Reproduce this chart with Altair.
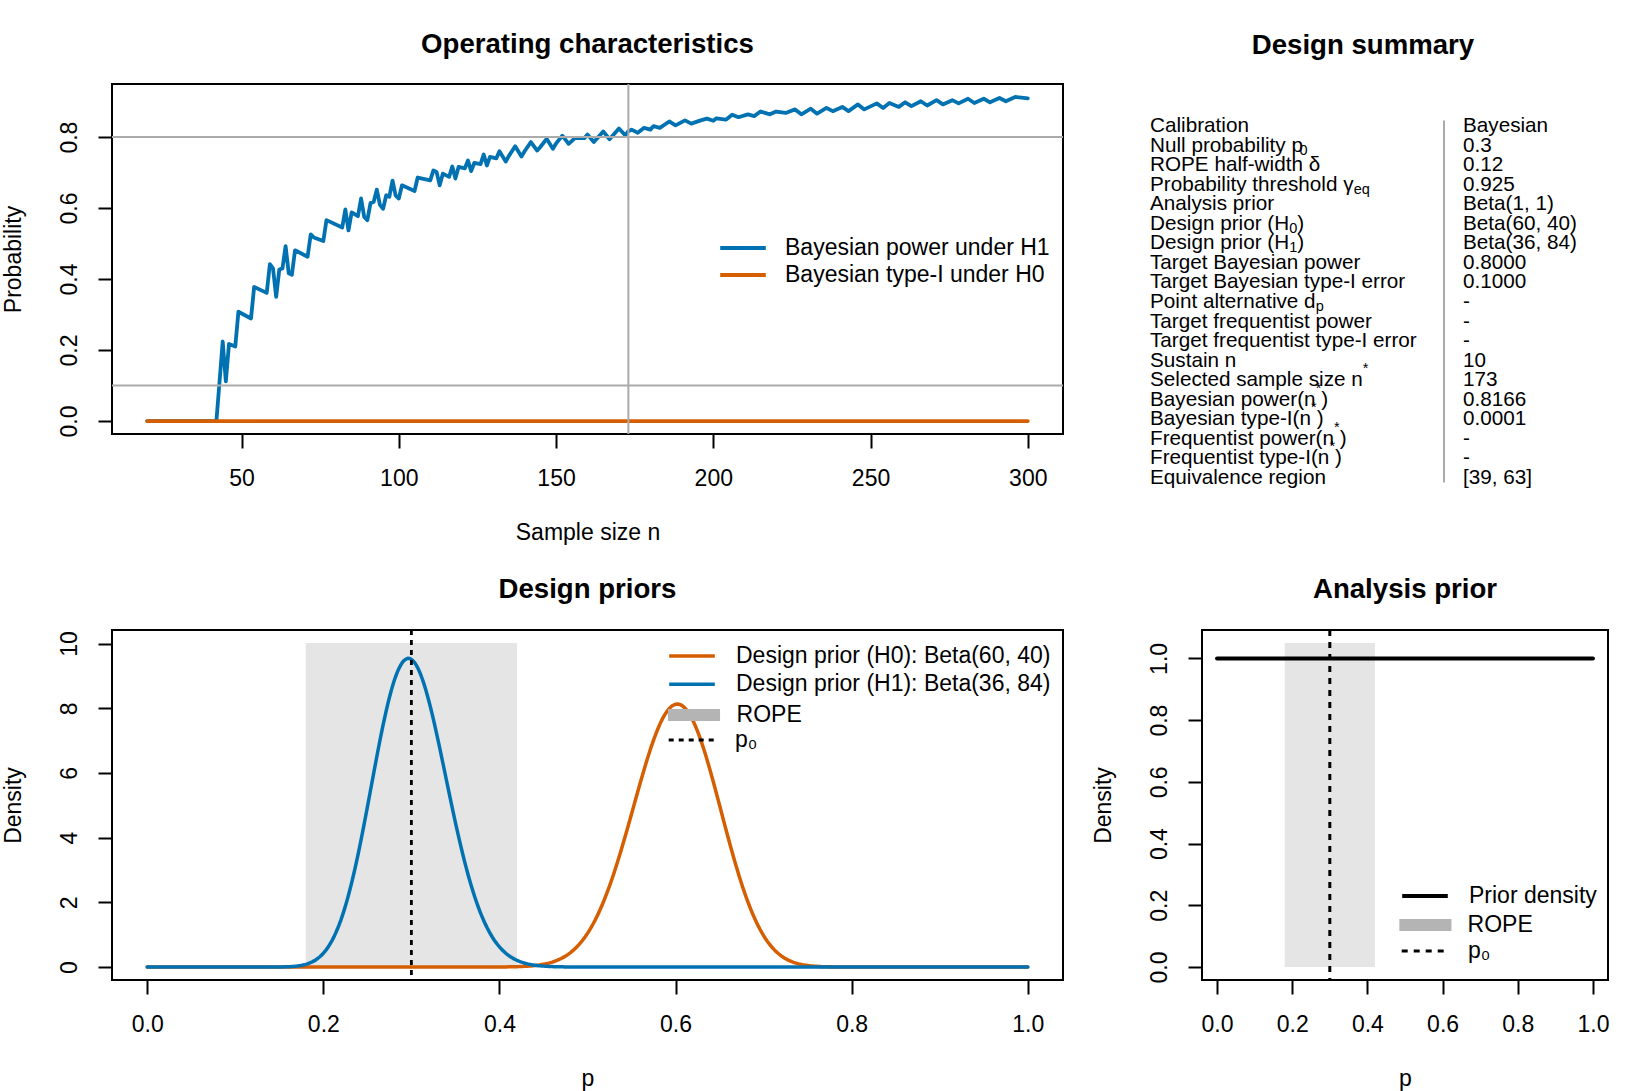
import math
import re
import numpy as np
import pandas as pd
import altair as alt

FONT = "Liberation Sans"
BLUE = "#0072B2"
ORANGE = "#D55E00"
REF_GREY = "#ABABAB"
ROPE_FILL = "#E5E5E5"
ROPE_KEY = "#B4B4B4"

# ---------------- operating characteristics ----------------
n_power = [20, 42, 44, 45, 46, 48, 49, 53, 54, 58, 59, 60, 61, 62, 63, 64, 65, 66, 67,
           71, 72, 73, 76, 77, 82, 83, 84, 85, 87, 88, 89, 90, 91, 92, 93, 94, 95, 96,
           97, 98, 99, 100, 101, 105, 106, 110, 111, 112, 113, 114, 116, 117, 118, 119,
           121, 122, 123, 124, 126, 127, 128, 129, 131, 132, 134, 135, 137, 139, 140,
           142, 144, 145, 147, 149, 150, 152, 154, 156, 159, 160, 162, 165, 167, 170,
           172, 173, 174, 176, 178, 180, 181, 183, 186, 188, 191, 193, 196, 198, 200,
           201, 204, 206, 208, 211, 213, 215, 218, 220, 223, 226, 228, 231, 233, 236,
           238, 241, 243, 246, 248, 252, 254, 256, 259, 261, 263, 266, 268, 271, 273,
           276, 278, 281, 283, 286, 288, 291, 293, 296, 298, 300]
power_h1 = [0.0, 0.0, 0.224, 0.112, 0.217, 0.210, 0.308, 0.289, 0.378, 0.361, 0.442, 0.430,
            0.350, 0.427, 0.430, 0.493, 0.416, 0.412, 0.481, 0.463, 0.526, 0.517, 0.507,
            0.566, 0.545, 0.596, 0.537, 0.588, 0.577, 0.627, 0.575, 0.566, 0.614, 0.617,
            0.652, 0.609, 0.598, 0.636, 0.632, 0.677, 0.635, 0.627, 0.664, 0.648, 0.686,
            0.678, 0.706, 0.702, 0.664, 0.697, 0.688, 0.717, 0.683, 0.716, 0.712, 0.734,
            0.704, 0.727, 0.724, 0.751, 0.720, 0.744, 0.740, 0.760, 0.731, 0.747, 0.774,
            0.745, 0.760, 0.786, 0.762, 0.772, 0.795, 0.767, 0.782, 0.804, 0.781, 0.797,
            0.797, 0.807, 0.786, 0.816, 0.794, 0.824, 0.805, 0.8166, 0.821, 0.812, 0.826,
            0.821, 0.831, 0.826, 0.844, 0.833, 0.847, 0.838, 0.847, 0.852, 0.846, 0.853,
            0.849, 0.863, 0.856, 0.864, 0.859, 0.872, 0.864, 0.872, 0.868, 0.878, 0.864,
            0.880, 0.866, 0.882, 0.873, 0.885, 0.873, 0.892, 0.878, 0.895, 0.882, 0.896,
            0.885, 0.898, 0.887, 0.901, 0.889, 0.904, 0.892, 0.904, 0.895, 0.908, 0.896,
            0.908, 0.898, 0.910, 0.901, 0.913, 0.911, 0.909]
n_type1 = [20, 300]
type1_h0 = [0.0, 0.0]
target_power = 0.8
target_type1 = 0.1
n_star = 173
oc_series = ["Bayesian power under H1", "Bayesian type-I under H0"]

# ---------------- design ----------------
p0 = 0.3
rope_delta = 0.12
prior_h0 = (60, 40)
prior_h1 = (36, 84)
analysis_prior = (1, 1)

summary_labels = [
    "Calibration",
    "Null probability p_{0}",
    "ROPE half-width δ",
    "Probability threshold γ_{eq}",
    "Analysis prior",
    "Design prior (H_{0})",
    "Design prior (H_{1})",
    "Target Bayesian power",
    "Target Bayesian type-I error",
    "Point alternative d_{p}",
    "Target frequentist power",
    "Target frequentist type-I error",
    "Sustain n",
    "Selected sample size n^{*}",
    "Bayesian power(n^{*} )",
    "Bayesian type-I(n^{*} )",
    "Frequentist power(n^{*} )",
    "Frequentist type-I(n^{*} )",
    "Equivalence region",
]
summary_values = ["Bayesian", "0.3", "0.12", "0.925", "Beta(1, 1)", "Beta(60, 40)",
                  "Beta(36, 84)", "0.8000", "0.1000", "-", "-", "-", "10", "173",
                  "0.8166", "0.0001", "-", "-", "[39, 63]"]

# ---------------- helpers ----------------
def beta_pdf(x, a, b):
    x = np.asarray(x, dtype=float)
    log_b = math.lgamma(a) + math.lgamma(b) - math.lgamma(a + b)
    with np.errstate(divide="ignore", invalid="ignore"):
        t1 = np.zeros_like(x) if a == 1 else (a - 1) * np.log(x)
        t2 = np.zeros_like(x) if b == 1 else (b - 1) * np.log1p(-x)
    out = np.exp(t1 + t2 - log_b)
    return np.nan_to_num(out, nan=0.0, posinf=0.0)


def padded(lo, hi):
    r = hi - lo
    return [lo - 0.04 * r, hi + 0.04 * r]


BASE = 23
LINE_KEY = "M-1.9,0H1.9"     # 46 px line at symbolSize 576
BAND_KEY = "M-2.17,0H2.17"   # 52 px band for the ROPE key


def key_legend(lx, ly, offset, row_pad=1.0, path=LINE_KEY, **extra):
    return alt.Legend(orient="none", legendX=lx, legendY=ly, title=None,
                      symbolType=path, symbolSize=576, labelFont=FONT,
                      labelFontSize=BASE, labelColor="black", labelOffset=offset,
                      rowPadding=row_pad, padding=0, labelLimit=0, **extra)


PW = 951
PH = 350

# ---------------- panel A: operating characteristics ----------------
oc_df = pd.DataFrame({
    "n": n_power + n_type1,
    "prob": power_h1 + type1_h0,
    "series": [oc_series[0]] * len(n_power) + [oc_series[1]] * len(n_type1),
})
x_oc = alt.Scale(domain=padded(min(n_power), max(n_power)), nice=False, zero=False)
y_oc = alt.Scale(domain=padded(0, max(power_h1)), nice=False, zero=False)
xa = alt.Axis(values=[50, 100, 150, 200, 250, 300], title="Sample size n")
ya = alt.Axis(values=[0, 0.2, 0.4, 0.6, 0.8], title="Probability", format=".1f")

oc_lines = alt.Chart(oc_df).mark_line(strokeWidth=3.8, strokeCap="round", strokeJoin="round").encode(
    x=alt.X("n:Q", scale=x_oc, axis=xa),
    y=alt.Y("prob:Q", scale=y_oc, axis=ya),
    color=alt.Color("series:N", scale=alt.Scale(domain=oc_series, range=[BLUE, ORANGE]),
                    legend=key_legend(617, 150, 28, row_pad=1.0, symbolStrokeWidth=3.8)),
)
oc_h = alt.Chart(pd.DataFrame({"prob": [target_power, target_type1]})).mark_rule(
    color=REF_GREY, strokeWidth=2).encode(y=alt.Y("prob:Q", scale=y_oc, axis=ya))
oc_v = alt.Chart(pd.DataFrame({"n": [n_star]})).mark_rule(
    color=REF_GREY, strokeWidth=2).encode(x=alt.X("n:Q", scale=x_oc, axis=xa))
panel_a = alt.layer(oc_lines, oc_h, oc_v).properties(
    width=PW, height=PH, title=alt.Title("Operating characteristics"))

# ---------------- panel B: design summary ----------------
ADV = {" ": 278, "(": 333, ")": 333, "-": 333, "*": 389, ",": 278, ".": 278,
       "[": 278, "]": 278, "δ": 556, "γ": 500,
       "a": 556, "b": 556, "c": 500, "d": 556, "e": 556, "f": 278, "g": 556,
       "h": 556, "i": 222, "j": 222, "k": 500, "l": 222, "m": 833, "n": 556,
       "o": 556, "p": 556, "q": 556, "r": 333, "s": 500, "t": 278, "u": 556,
       "v": 500, "w": 722, "x": 500, "y": 500, "z": 500,
       "A": 667, "B": 667, "C": 722, "D": 722, "E": 667, "F": 611, "H": 722,
       "I": 278, "O": 778, "P": 667, "R": 722, "S": 667, "T": 611}


def text_width(s, size):
    return sum(ADV.get(ch, 556) for ch in s) / 1000.0 * size


TABLE_W = 322
TABLE_FS = 20.7
SCRIPT_FS = 14.5
ROW_STEP = 19.53
FIRST_ROW = 42.2
LABEL_X = -52
VALUE_X = 261
SEP_X = 242

seg_rows = []
for r, label in enumerate(summary_labels):
    x = LABEL_X
    for part in re.split(r"([_^]\{[^}]*\})", label):
        if not part:
            continue
        if part.startswith("_{"):
            txt, fs, shift = part[2:-1], SCRIPT_FS, 5.0
        elif part.startswith("^{"):
            txt, fs, shift = part[2:-1], SCRIPT_FS, -11.0
        else:
            txt, fs, shift = part, TABLE_FS, 0.0
        seg_rows.append({"px": x, "row": r + shift / ROW_STEP, "txt": txt, "fs": fs})
        x += text_width(txt, fs)
seg_df = pd.DataFrame(seg_rows)
val_df = pd.DataFrame({"px": [VALUE_X] * len(summary_values),
                       "row": list(range(len(summary_values))),
                       "txt": summary_values})
sep_df = pd.DataFrame({"px": [SEP_X], "row": [-0.29], "row_end": [18.24]})

table_y = alt.Scale(domain=[-FIRST_ROW / ROW_STEP, (PH - FIRST_ROW) / ROW_STEP], reverse=True)

tab_labels = alt.Chart(seg_df).mark_text(align="left", baseline="middle", font=FONT,
                                         color="black").encode(
    x=alt.X("px:Q", scale=None, axis=None),
    y=alt.Y("row:Q", scale=table_y, axis=None),
    text="txt:N",
    size=alt.Size("fs:Q", scale=None, legend=None),
)
tab_values = alt.Chart(val_df).mark_text(align="left", baseline="middle", font=FONT,
                                         fontSize=TABLE_FS, color="black").encode(
    x=alt.X("px:Q", scale=None, axis=None),
    y=alt.Y("row:Q", scale=table_y, axis=None),
    text="txt:N",
)
tab_sep = alt.Chart(sep_df).mark_rule(color=REF_GREY, strokeWidth=2).encode(
    x=alt.X("px:Q", scale=None, axis=None),
    y=alt.Y("row:Q", scale=table_y, axis=None),
    y2="row_end:Q",
)
panel_b = alt.layer(tab_sep, tab_labels, tab_values).properties(
    width=TABLE_W, height=PH, title=alt.Title("Design summary"),
    view=alt.ViewBackground(strokeOpacity=0))

# ---------------- shared pieces for the prior panels ----------------
grid_p = np.linspace(0, 1, 501)
x_p = alt.Scale(domain=padded(0, 1), nice=False, zero=False)
xp_ax = alt.Axis(values=[0, 0.2, 0.4, 0.6, 0.8, 1.0], title="p", format=".1f")
rope_lo, rope_hi = p0 - rope_delta, p0 + rope_delta


def rope_layers(y_scale, y_ax, top, lx, ly, offset):
    rect = alt.Chart(pd.DataFrame({"p": [rope_lo], "p_hi": [rope_hi],
                                   "density": [0.0], "d_hi": [top]})).mark_rect(
        color=ROPE_FILL).encode(
        x=alt.X("p:Q", scale=x_p, axis=xp_ax), x2="p_hi:Q",
        y=alt.Y("density:Q", scale=y_scale, axis=y_ax), y2="d_hi:Q")
    # single-point line: draws nothing, supplies the ROPE key
    key = alt.Chart(pd.DataFrame({"p": [p0], "density": [0.0], "rope": ["ROPE"]})).mark_line(
        color=ROPE_KEY, strokeCap="butt").encode(
        x=alt.X("p:Q", scale=x_p, axis=xp_ax),
        y=alt.Y("density:Q", scale=y_scale, axis=y_ax),
        strokeWidth=alt.StrokeWidth("rope:N", scale=alt.Scale(domain=["ROPE"], range=[12, 12]),
                                    legend=key_legend(lx, ly, offset, path=BAND_KEY,
                                                      symbolStrokeColor=ROPE_KEY)))
    return rect, key


def p0_layer(y_scale, dash, width, lx, ly, offset):
    return alt.Chart(pd.DataFrame({"p": [p0], "ref": ["p₀"]})).mark_rule(
        color="black", strokeWidth=width).encode(
        x=alt.X("p:Q", scale=x_p, axis=xp_ax),
        strokeDash=alt.StrokeDash("ref:N", scale=alt.Scale(domain=["p₀"], range=[dash]),
                                  legend=key_legend(lx, ly, offset, symbolStrokeColor="black",
                                                    symbolStrokeWidth=width)))


# ---------------- panel C: design priors ----------------
h0_label = f"Design prior (H0): Beta({prior_h0[0]}, {prior_h0[1]})"
h1_label = f"Design prior (H1): Beta({prior_h1[0]}, {prior_h1[1]})"
dens_h0 = beta_pdf(grid_p, *prior_h0)
dens_h1 = beta_pdf(grid_p, *prior_h1)
dens_df = pd.DataFrame({
    "p": np.concatenate([grid_p, grid_p]),
    "density": np.concatenate([dens_h0, dens_h1]),
    "key": [h0_label] * len(grid_p) + [h1_label] * len(grid_p),
})
c_top = 1.05 * max(dens_h0.max(), dens_h1.max())
y_c = alt.Scale(domain=padded(0, c_top), nice=False, zero=False)
yc_ax = alt.Axis(values=[0, 2, 4, 6, 8, 10], title="Density", format="d")

curves_c = alt.Chart(dens_df).mark_line(strokeWidth=3.5, strokeCap="round").encode(
    x=alt.X("p:Q", scale=x_p, axis=xp_ax),
    y=alt.Y("density:Q", scale=y_c, axis=yc_ax),
    color=alt.Color("key:N", scale=alt.Scale(domain=[h0_label, h1_label], range=[ORANGE, BLUE]),
                    legend=key_legend(566, 12, 30, row_pad=2.3, symbolStrokeWidth=3.5)))
rope_c, rope_key_c = rope_layers(y_c, yc_ax, c_top, 564, 67, 24.6)
p0_c = p0_layer(y_c, [5, 5], 2.8, 566, 96.5, 30)
panel_c = alt.layer(rope_c, curves_c, p0_c, rope_key_c).properties(
    width=PW, height=PH, title=alt.Title("Design priors"))

# ---------------- panel D: analysis prior ----------------
dens_a = beta_pdf(grid_p, *analysis_prior)
ana_df = pd.DataFrame({"p": grid_p, "density": dens_a, "key": "Prior density"})
d_top = 1.05 * dens_a.max()
y_d = alt.Scale(domain=padded(0, d_top), nice=False, zero=False)
yd_ax = alt.Axis(values=[0, 0.2, 0.4, 0.6, 0.8, 1.0], title="Density", format=".1f")

curve_d = alt.Chart(ana_df).mark_line(strokeWidth=4, strokeCap="round").encode(
    x=alt.X("p:Q", scale=x_p, axis=xp_ax),
    y=alt.Y("density:Q", scale=y_d, axis=yd_ax),
    color=alt.Color("key:N", scale=alt.Scale(domain=["Prior density"], range=["black"]),
                    legend=key_legend(209, 252, 30, symbolStrokeWidth=4)))
rope_d, rope_key_d = rope_layers(y_d, yd_ax, d_top, 205.4, 277, 24.2)
p0_d = p0_layer(y_d, [6, 6], 3, 209, 307.5, 30)
panel_d = alt.layer(rope_d, curve_d, p0_d, rope_key_d).properties(
    width=406, height=PH, title=alt.Title("Analysis prior"))

# ---------------- assemble ----------------
chart = (
    alt.concat(panel_a, panel_b, panel_c, panel_d, columns=2,
               spacing={"row": 196, "column": 139}, bounds="flush", align="each")
    .resolve_scale(color="independent", strokeDash="independent",
                   strokeWidth="independent")
    .properties(padding={"left": 0, "top": 29, "right": 0, "bottom": 0},
                background="white")
    .configure_view(stroke="black", strokeWidth=2)
    .configure_axis(domain=False, grid=False, ticks=True, tickColor="black", tickWidth=2,
                    tickSize=14, labelColor="black", titleColor="black",
                    titleFontWeight="normal", labelFont=FONT, labelFontSize=BASE,
                    titleFont=FONT, titleFontSize=BASE)
    .configure_axisX(labelPadding=19, titlePadding=31)
    .configure_axisY(labelAngle=270, labelAlign="center", labelBaseline="bottom",
                     labelPadding=17, titlePadding=33)
    .configure_title(font=FONT, fontSize=27.6, fontWeight="bold", anchor="middle",
                     frame="group", color="black", baseline="alphabetic", offset=24.7)
)

chart.save("out.html", embed_options={"renderer": "svg", "actions": False})
